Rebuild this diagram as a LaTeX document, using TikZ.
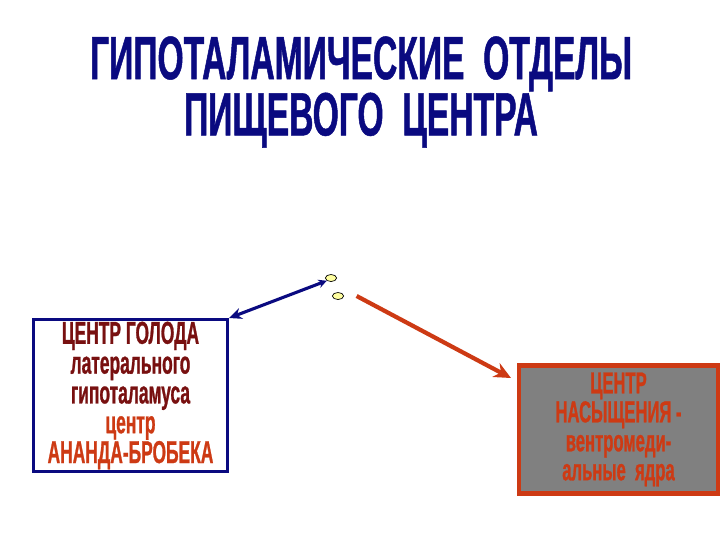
\documentclass[tikz,border=0pt]{standalone}
\usepackage{fontspec}
\setmainfont{Liberation Sans}
\newfontfamily\narrowfont{Liberation Sans}[FakeStretch=0.55,FakeBold=0.8,BoldFont={* Bold}]
\usetikzlibrary{arrows.meta,shapes.geometric}
\definecolor{navy}{RGB}{10,10,128}
\definecolor{darkred}{RGB}{120,16,16}
\definecolor{redorange}{RGB}{205,58,20}
\definecolor{boxgray}{RGB}{128,128,128}
\definecolor{dotyellow}{RGB}{255,255,160}

\begin{document}
\begin{tikzpicture}[x=0.025cm,y=-0.025cm,
  centerbox/.style={draw,line width=2.2pt,inner sep=0pt,align=center,
    font=\narrowfont\bfseries\fontsize{22.5}{21.2}\selectfont},
  dot/.style={ellipse,draw=black,fill=dotyellow,line width=0.5pt,
    minimum width=8pt,minimum height=5pt,inner sep=0pt}]
\useasboundingbox (0,0) rectangle (720,540);

\node[navy,align=center,font=\narrowfont\bfseries\fontsize{43.5}{37.5}\selectfont]
  (title) at (361,92) {ГИПОТАЛАМИЧЕСКИЕ~~ОТДЕЛЫ\\ПИЩЕВОГО~~ЦЕНТРА};

\node[centerbox,draw=navy,fill=white,text=darkred,
  minimum width=138pt,minimum height=108pt] (hunger) at (130.5,395.5)
  {ЦЕНТР ГОЛОДА\\латерального\\гипоталамуса\\
   \color{redorange}центр\\\color{redorange}АНАНДА-БРОБЕКА};
\node[centerbox,draw=redorange,fill=boxgray,text=redorange,line width=3pt,
  font=\narrowfont\bfseries\fontsize{21.5}{20.6}\selectfont,
  minimum width=141pt,minimum height=91pt] (satiety) at (618.5,429.5)
  {ЦЕНТР\\НАСЫЩЕНИЯ -\\вентромеди-\\альные~~ядра};

\node[dot] (dotA) at (331,278) {};
\node[dot] (dotB) at (338,296) {};
\coordinate (satTip) at (511,378);

\draw[navy,line width=2.2pt,{Stealth[length=9pt,width=8pt]}-{Stealth[length=6pt,width=6pt]}]
  (hunger.north east) -- (dotA.south west);
\draw[redorange,line width=3pt,-{Stealth[length=12pt,width=11pt]}]
  ([xshift=9pt]dotB.east) -- (satTip);
\end{tikzpicture}
\end{document}
